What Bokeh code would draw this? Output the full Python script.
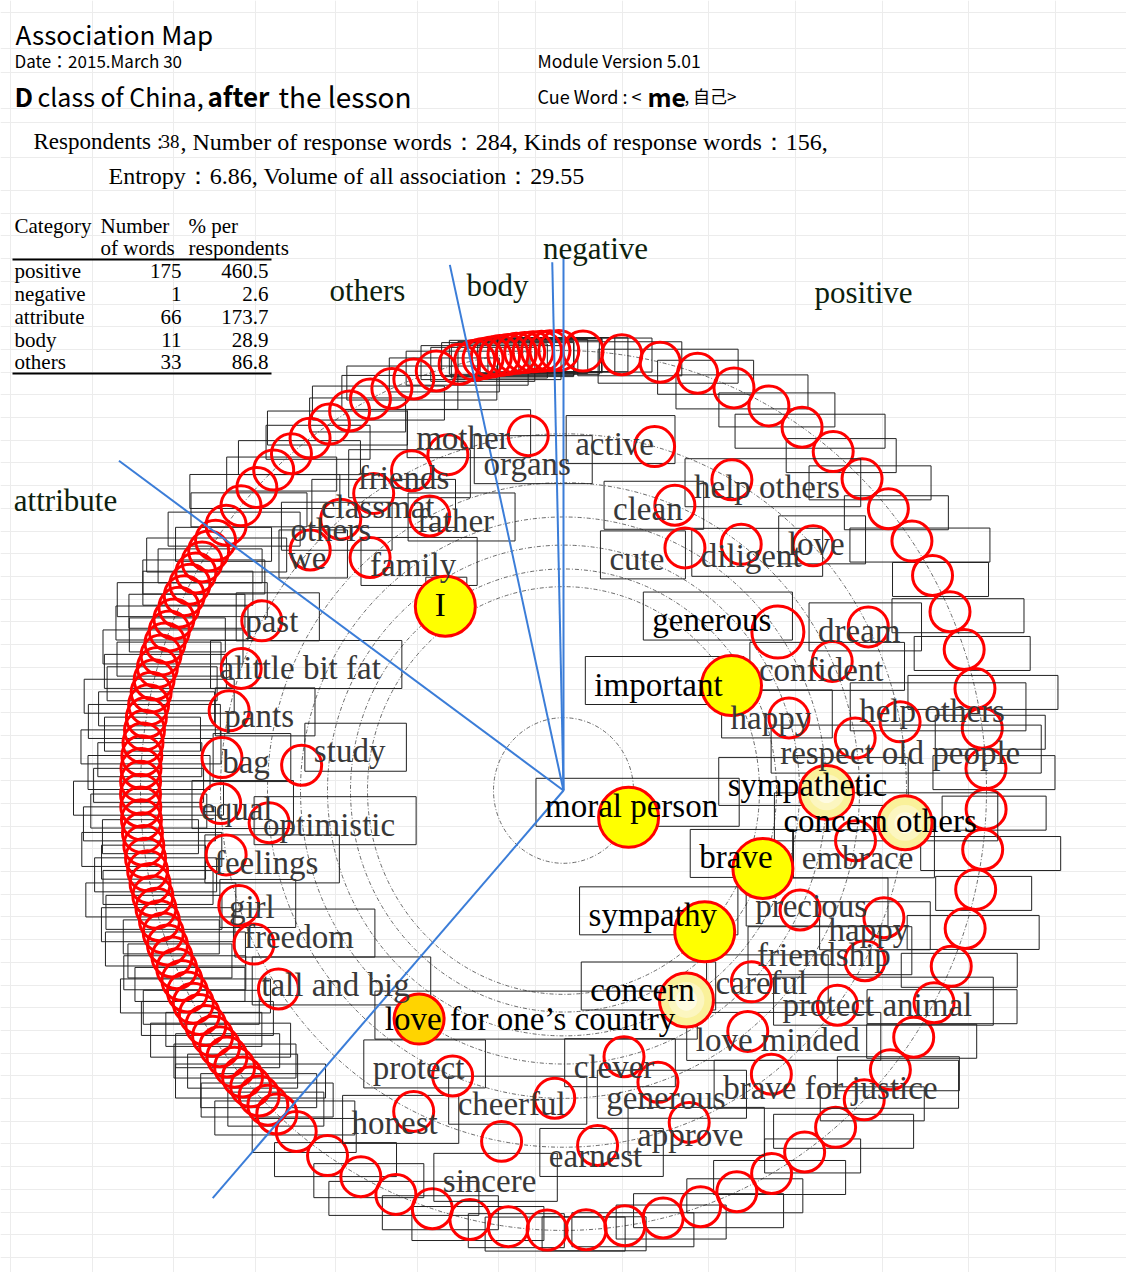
import math
from bokeh.plotting import figure
from bokeh.models import ColumnDataSource, FixedTicker, Range1d, Grid
from bokeh.core.properties import value
from bokeh.embed import file_html
from bokeh.resources import INLINE

# ---------------- data ----------------
respondents = 38
n_response_words = 284
n_kinds = 156
entropy = 6.86
volume = 29.55

categories = ["positive", "negative", "attribute", "body", "others"]
cat_words = [175, 1, 66, 11, 33]
cat_pct = [460.5, 2.6, 173.7, 28.9, 86.8]

# labelled response words: text, category, frequency class, angle in degrees
words = ["moral person", "important", "sympathy", "I", "brave", "concern", "happy", "generous",
         "sympathetic", "love for one\u2019s country", "concern others", "cute", "clever", "careful",
         "precious", "study", "father", "family", "clean", "diligent", "confident",
         "respect old people", "embrace", "optimistic", "protect", "cheerful", "generous",
         "love minded", "mother", "organs", "friends", "classmat", "others", "we", "past",
         "alittle bit fat", "pants", "bag", "equal", "feelings", "girl", "freedom", "tall and big",
         "honest", "sincere", "earnest", "approve", "brave for justice", "protect animal",
         "friendship", "happy", "help others", "dream", "love", "help others", "active"]
word_cat = ["positive", "positive", "positive", "others", "positive", "positive", "positive", "positive",
            "positive", "positive", "positive", "positive", "positive", "positive",
            "positive", "attribute", "others", "others", "positive", "positive", "positive",
            "positive", "positive", "attribute", "positive", "positive", "positive",
            "positive", "others", "body", "others", "others", "others", "others", "attribute",
            "attribute", "attribute", "attribute", "attribute", "attribute", "attribute", "attribute", "attribute",
            "positive", "positive", "positive", "positive", "positive", "positive",
            "positive", "positive", "positive", "positive", "positive", "positive", "positive"]
word_freq = [12, 7, 7, 6, 6, 5, 5, 4,
             4, 4, 2, 4, 4, 4,
             4, 4, 3, 3, 3, 3, 3,
             3, 3, 3, 3, 3, 3,
             3, 2, 2, 2, 2, 2, 2, 2,
             2, 2, 2, 2, 2, 2, 2, 2,
             2, 2, 2, 2, 2, 2,
             2, 2, 2, 2, 2, 2, 2]
word_angle = [-21.6, 31.0, -43.9, 123.7, -20.6, -58.6, 17.2, 35.4,
              -0.4, -123.3, -5.2, 62.5, -76.7, -44.4,
              -25.9, 174.7, 116.9, 130.8, 67.9, 53.1, 24.8,
              9.8, -9.4, 186.0, -112.0, -91.7, -71.4,
              -51.5, 109.7, 95.9, 116.3, 123.6, 130.5, 137.6, 151.6,
              160.0, 167.1, 174.7, -177.9, -169.6, -161.2, -154.5, -146.2,
              -115.9, -100.4, -84.3, -68.5, -52.7, -37.0,
              -28.5, -20.9, 11.1, 27.3, 43.3, 60.6, 74.6]
# single-response (unlabelled) words on the outer ring, per category
single_cat = ["positive", "attribute", "others", "body", "negative"]
single_n = [42, 50, 13, 10, 1]

# ---------------- layout / style ----------------
CX, CY = 563, 790          # page position of the map centre
YS = 1.04                  # vertical stretch of the map
ring_radius = {12: 70, 7: 196, 6: 213, 5: 236, 4: 263, 3: 296, 2: 343, 1: 423}
# label offset from its circle (px, x right / y down)
label_off = [(3, -11), (-73, -1), (-52, -17), (-5, -1), (-27, -11), (-44, -10), (-18, 0), (-66, -12),
             (-19, -7), (111, 0), (-25, -2), (-48, 11), (-10, 10), (10, 1),
             (11, -4), (48, -14), (26, 5), (43, 8), (-27, 4), (10, 12), (-11, 9),
             (45, 15), (2, 17), (60, 2), (-34, -8), (-43, 6), (8, 16),
             (30, 9), (15, -17), (-1, 28), (-8, 7), (4, 14), (-10, 11), (-3, 8), (10, 0),
             (59, 0), (30, 5), (24, 4), (16, 5), (40, 8), (13, 2), (45, -7), (57, -4),
             (-19, 12), (-12, 40), (-2, 11), (1, 13), (59, 14), (40, 0),
             (-41, -6), (-15, 12), (32, -11), (-9, 4), (3, -2), (35, 7), (-40, -3)]
# 0 plain, 1 pale yellow, 2 yellow, 3 gold, 4 strong without fill
emph = [2, 2, 2, 2, 2, 1, 0, 4,
        1, 3, 1] + [0] * 45
emph_radius = {0: 20, 1: 27, 2: 30, 3: 25, 4: 26}
emph_fill = {0: None, 1: "#faf19a", 2: "#ffff00", 3: "#ffd400", 4: None}
LABEL_FS = 33

TW = {'a': .444, 'b': .5, 'c': .444, 'd': .5, 'e': .444, 'f': .333, 'g': .5, 'h': .5, 'i': .278,
      'j': .278, 'k': .5, 'l': .278, 'm': .778, 'n': .5, 'o': .5, 'p': .5, 'q': .5, 'r': .333,
      's': .389, 't': .278, 'u': .5, 'v': .5, 'w': .722, 'x': .5, 'y': .5, 'z': .444, ' ': .25,
      'I': .333, '\u2019': .333}


def text_width(s, fs):
    return sum(TW.get(c, .5) for c in s) * fs


def polar(r, ang):
    a = math.radians(ang)
    return r * math.cos(a), YS * r * math.sin(a)


def S(sx, sy):
    """page layout position -> data coordinates"""
    return sx - CX, CY - sy


W, H = 1126, 1272
p = figure(width=W, height=H, x_range=Range1d(-CX, W - CX), y_range=Range1d(CY - H, CY),
           output_backend="svg", toolbar_location=None, x_axis_location=None, y_axis_location=None,
           min_border=0)
p.outline_line_color = None
p.background_fill_color = "white"
p.grid.visible = False

# spreadsheet grid
cols = [10, 92, 173, 255, 335, 417, 498, 535, 622, 708, 795, 882, 968, 1055]
rows = [12, 48, 72, 108, 122, 157, 190] + [190 + 22.7 * k for k in range(1, 48)]
p.add_layout(Grid(dimension=0, ticker=FixedTicker(ticks=[c - CX for c in cols]),
                  grid_line_color="#ececec", grid_line_width=1))
p.add_layout(Grid(dimension=1, ticker=FixedTicker(ticks=[CY - r for r in rows]),
                  grid_line_color="#ececec", grid_line_width=1))

# rings
rr = sorted(set(ring_radius.values()))
p.ellipse(x=[0] * len(rr), y=[0] * len(rr), width=[2 * r for r in rr], height=[2 * r * YS for r in rr],
          fill_color=None, line_color="#444444", line_width=0.8, line_dash="4 2 1 2")

# sector boundaries
tot = n_response_words
cw = dict(zip(categories, cat_words))
pos_end = 90 - cw["positive"] / tot * 360
att_end = pos_end - cw["attribute"] / tot * 360
oth_end = att_end - cw["others"] / tot * 360
neg_start = 90 + cw["negative"] / tot * 360
sectors = {"positive": (90, pos_end), "attribute": (pos_end, att_end), "others": (att_end, oth_end),
           "body": (oth_end, neg_start - 360), "negative": (neg_start, 90)}
bounds = [90, pos_end, att_end, oth_end, neg_start]
bound_len = [514, 526, 546, 518, 508]

# outer ring single words
ox, oy = [], []
for c, n in zip(single_cat, single_n):
    a, b = sectors[c]
    for i in range(n):
        x, y = polar(ring_radius[1], a - (i + 0.5) * (a - b) / n)
        ox.append(x)
        oy.append(y)
box_w = [122, 104, 140, 96, 132, 116, 150, 110]
p.rect(x=[x + 8 for x in ox], y=[y - 4 for y in oy], width=[box_w[i % len(box_w)] for i in range(len(ox))],
       height=34, fill_color=None, line_color="#222222", line_width=1)
p.scatter(x=ox, y=oy, size=40, marker="circle", fill_color=None, line_color="#ff0000", line_width=3)

# labelled words
cxs, cys, txs, tys, fills, sizes, colors, bx, by, bw = [], [], [], [], [], [], [], [], [], []
for k, w in enumerate(words):
    x, y = polar(ring_radius[word_freq[k]], word_angle[k])
    cxs.append(x)
    cys.append(y)
    dx, dy = label_off[k]
    tx, ty = x + dx, y - dy
    txs.append(tx)
    tys.append(ty)
    e = emph[k]
    fills.append(emph_fill[e])
    sizes.append(2 * emph_radius[e])
    colors.append("black" if e > 0 else "#383838")
    tw = text_width(w, LABEL_FS)
    bx.append(tx + 6)
    by.append(ty + 4)
    bw.append(tw + 30)

p.rect(x=bx, y=by, width=bw, height=48, fill_color=None, line_color="#222222", line_width=1)
csrc = ColumnDataSource(dict(x=cxs, y=cys, fill=fills, size=sizes))
p.scatter(x="x", y="y", size="size", marker="circle", fill_color="fill", line_color="#ff0000",
          line_width=3, source=csrc)
# soft centre of the pale markers
pale = [k for k in range(len(words)) if emph[k] == 1]
for frac, col in ((0.72, "#fcf6c0"), (0.45, "#fefbe2")):
    p.scatter(x=[cxs[k] for k in pale], y=[cys[k] for k in pale],
              size=[2 * emph_radius[1] * frac - 3 for k in pale], marker="circle",
              fill_color=col, line_color=None)

# boundary lines
for ang, L in zip(bounds, bound_len):
    x, y = polar(L, ang)
    p.segment(x0=0, y0=0, x1=x, y1=y, line_color="#3b7dd8", line_width=2)

tsrc = ColumnDataSource(dict(x=txs, y=tys, t=words, c=colors))
p.text(x="x", y="y", text="t", text_color="c", source=tsrc, text_font=value("Liberation Serif"),
       text_font_size=value(f"{LABEL_FS}px"), text_align="center", text_baseline="middle")

# category labels
cat_label_pos = {"negative": (595, 248), "body": (497, 285), "others": (367, 290),
                 "positive": (863, 292), "attribute": (65, 500)}
lx = [S(*cat_label_pos[c])[0] for c in categories]
ly = [S(*cat_label_pos[c])[1] for c in categories]
p.text(x=lx, y=ly, text=categories, text_color="#0d1f0d", text_font=value("Liberation Serif"),
       text_font_size=value("31px"), text_align="center", text_baseline="middle")

# ---------------- header ----------------
SANS = value("Noto Sans CJK JP")
SERIF = value("Liberation Serif")


def put(sx, sy, s, font, size, bold=False, align="left", color="black"):
    x, y = S(sx, sy)
    p.text(x=[x], y=[y], text=[s], text_font=font, text_font_size=value(size),
           text_font_style="bold" if bold else "normal", text_align=align,
           text_baseline="alphabetic", text_color=color)


put(15, 33, "Association Map", SANS, "26px")
put(14, 60, "Date\uff1a2015.March 30", SANS, "17px")
put(537, 60, "Module Version 5.01", SANS, "17.5px")
put(14, 95, "D", SANS, "26px", bold=True)
put(37, 95, "class of China,", SANS, "25px")
put(207, 95, "after", SANS, "26px", bold=True)
put(278, 95, "the lesson", SANS, "28px")
put(537, 95, "Cue Word : <", SANS, "18px")
put(647, 95, "me", SANS, "25px", bold=True)
put(684, 95, ", \u81ea\u5df1>", SANS, "17px")

put(33, 141, "Respondents :", SERIF, "23px")
put(160, 141, f"{respondents}", SERIF, "19px")
put(180, 141, f", Number of response words\uff1a{n_response_words}, Kinds of response words\uff1a{n_kinds},",
    SERIF, "24px")
put(108, 175, f"Entropy\uff1a{entropy:.2f}, Volume of all association\uff1a{volume:.2f}", SERIF, "24px")

# summary table
put(14, 225, "Category", SERIF, "21px")
put(100, 225, "Number", SERIF, "21px")
put(188, 225, "% per", SERIF, "21px")
put(100, 247, "of words", SERIF, "21px")
put(188, 247, "respondents", SERIF, "21px")
row_base = [270, 293, 316, 339, 361]
for i, c in enumerate(categories):
    put(14, row_base[i], c, SERIF, "21px")
    put(181, row_base[i], f"{cat_words[i]}", SERIF, "21px", align="right")
    put(268, row_base[i], f"{cat_pct[i]:.1f}", SERIF, "21px", align="right")
for ly_ in (259, 373):
    x0, y0 = S(12, ly_)
    x1, _ = S(271, ly_)
    p.segment(x0=x0, y0=y0, x1=x1, y1=y0, line_color="black", line_width=2)

open("out.html", "w").write(file_html(p, INLINE))
